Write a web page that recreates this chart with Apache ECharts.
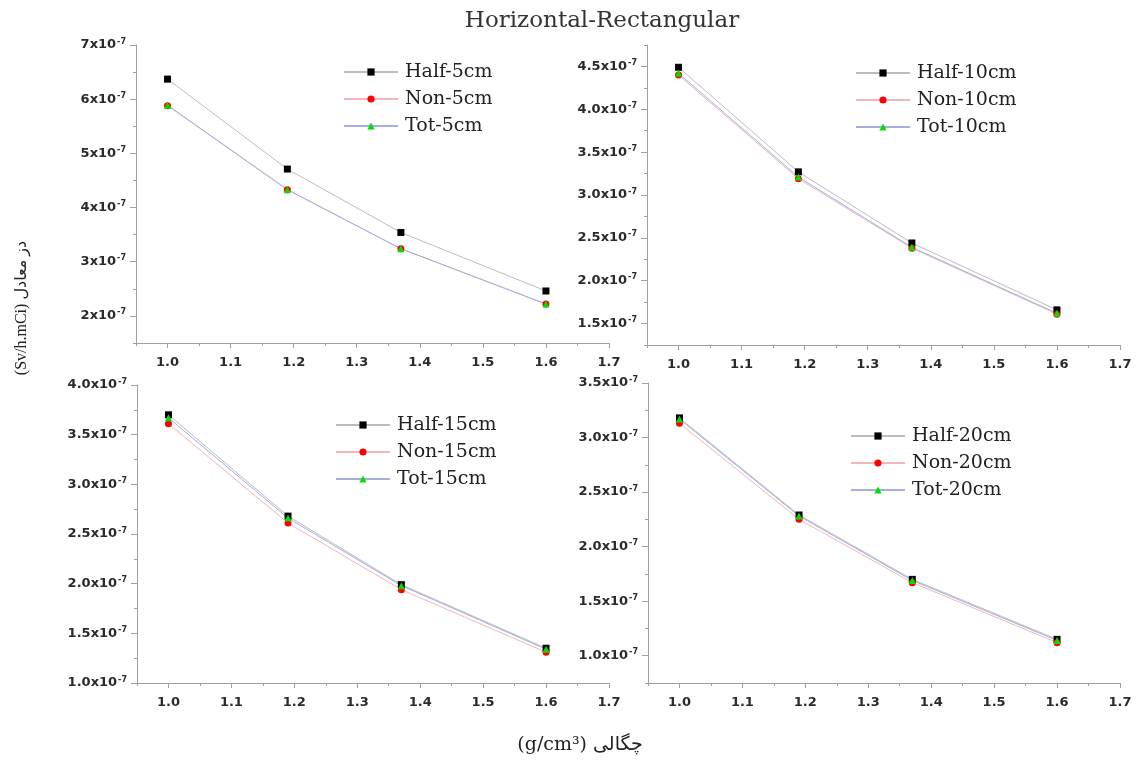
<!DOCTYPE html>
<html>
<head>
<meta charset="utf-8">
<script src="https://cdn.jsdelivr.net/npm/echarts@6/dist/echarts.min.js"></script>
<style>
  html, body { margin: 0; padding: 0; background: #fff; }
  #chart { width: 1140px; height: 762px; }
</style>
</head>
<body>
<div id="chart"></div>
<script>
// Dose equivalent versus density, four source distances.
// Dose values are in units of 1e-7 Sv/h.mCi.
const density = [1.0, 1.19, 1.37, 1.6];

const half5cm = [6.37, 4.71, 3.54, 2.46];
const non5cm  = [5.88, 4.33, 3.24, 2.22];
const tot5cm  = [5.89, 4.33, 3.24, 2.22];

const half10cm = [4.49, 3.27, 2.44, 1.66];
const non10cm  = [4.40, 3.19, 2.38, 1.61];
const tot10cm  = [4.42, 3.21, 2.39, 1.62];

const half15cm = [3.70, 2.68, 1.99, 1.35];
const non15cm  = [3.61, 2.61, 1.94, 1.31];
const tot15cm  = [3.67, 2.66, 1.98, 1.34];

const half20cm = [3.18, 2.29, 1.70, 1.15];
const non20cm  = [3.13, 2.25, 1.67, 1.12];
const tot20cm  = [3.17, 2.28, 1.69, 1.14];

// Tick values
const xMajorTicks = [1.0, 1.1, 1.2, 1.3, 1.4, 1.5, 1.6, 1.7];
const xMinorTicks = [0.95, 1.05, 1.15, 1.25, 1.35, 1.45, 1.55, 1.65];
const yTicks5cm  = [2, 3, 4, 5, 6, 7];
const yTicks10cm = [1.5, 2.0, 2.5, 3.0, 3.5, 4.0, 4.5];
const yTicks15cm = [1.0, 1.5, 2.0, 2.5, 3.0, 3.5, 4.0];
const yTicks20cm = [1.0, 1.5, 2.0, 2.5, 3.0, 3.5];
const yMinor5cm  = [1.5, 2.5, 3.5, 4.5, 5.5, 6.5];
const yMinor10cm = [1.25, 1.75, 2.25, 2.75, 3.25, 3.75, 4.25, 4.75];
const yMinor15cm = [1.25, 1.75, 2.25, 2.75, 3.25, 3.75];
const yMinor20cm = [0.75, 1.25, 1.75, 2.25, 2.75, 3.25];

const panels = [
  { tag: '5cm',  half: half5cm,  non: non5cm,  tot: tot5cm,  yMin: 1.5,  yMax: 7,    major: yTicks5cm,  minor: yMinor5cm,  digits: 0,
    grid: { left: 136, top: 45, width: 473, height: 298 }, legend: { left: 343, top: 62 } },
  { tag: '10cm', half: half10cm, non: non10cm, tot: tot10cm, yMin: 1.25, yMax: 4.75, major: yTicks10cm, minor: yMinor10cm, digits: 1,
    grid: { left: 647, top: 45, width: 473, height: 300 }, legend: { left: 855, top: 63 } },
  { tag: '15cm', half: half15cm, non: non15cm, tot: tot15cm, yMin: 1.0,  yMax: 4.0,  major: yTicks15cm, minor: yMinor15cm, digits: 1,
    grid: { left: 137, top: 385, width: 472, height: 298 }, legend: { left: 335, top: 415 } },
  { tag: '20cm', half: half20cm, non: non20cm, tot: tot20cm, yMin: 0.75, yMax: 3.5,  major: yTicks20cm, minor: yMinor20cm, digits: 1,
    grid: { left: 648, top: 383, width: 472, height: 300 }, legend: { left: 850, top: 426 } }
];

const axisGrey = '#a0a0a0';
const sansBold = '"DejaVu Sans", "Liberation Sans", sans-serif';
const serif = '"DejaVu Serif", "Liberation Serif", serif';
const sciRich = {
  b: { fontSize: 13, fontFamily: sansBold, fontWeight: 'bold', color: '#2a2a2a', lineHeight: 15 },
  s: { fontSize: 8, fontFamily: sansBold, fontWeight: 'bold', color: '#2a2a2a', verticalAlign: 'top', lineHeight: 15, padding: [0, 0, 7, 1] }
};

const grid = [], xAxis = [], yAxis = [], series = [], legend = [];

panels.forEach((p, i) => {
  grid.push(Object.assign({ containLabel: false }, p.grid));

  // main x axis: major ticks and labels
  xAxis.push({
    type: 'value', gridIndex: i, min: 0.95, max: 1.7,
    axisLine: { show: true, lineStyle: { color: axisGrey, width: 1 } },
    axisTick: { show: true, customValues: xMajorTicks, length: 5, lineStyle: { color: axisGrey } },
    axisLabel: {
      customValues: xMajorTicks, margin: 13, fontSize: 13, fontFamily: sansBold, fontWeight: 'bold', color: '#2a2a2a',
      formatter: v => v.toFixed(1)
    },
    splitLine: { show: false }
  });
  // overlay x axis carrying the minor ticks
  xAxis.push({
    type: 'value', gridIndex: i, min: 0.95, max: 1.7, position: 'bottom',
    axisLine: { show: false },
    axisTick: { show: true, customValues: xMinorTicks, length: 3, lineStyle: { color: axisGrey } },
    axisLabel: { show: false, customValues: xMinorTicks },
    splitLine: { show: false }
  });
  yAxis.push({
    type: 'value', gridIndex: i, min: p.yMin, max: p.yMax,
    axisLine: { show: true, lineStyle: { color: axisGrey, width: 1 } },
    axisTick: { show: true, customValues: p.major, length: 6, lineStyle: { color: axisGrey } },
    axisLabel: {
      customValues: p.major, margin: 10, rich: sciRich,
      formatter: v => '{b|' + v.toFixed(p.digits) + 'x10}{s|-7}'
    },
    splitLine: { show: false }
  });
  yAxis.push({
    type: 'value', gridIndex: i, min: p.yMin, max: p.yMax, position: 'left',
    axisLine: { show: false },
    axisTick: { show: true, customValues: p.minor, length: 3, lineStyle: { color: axisGrey } },
    axisLabel: { show: false, customValues: p.minor },
    splitLine: { show: false }
  });

  const defs = [
    { name: 'Half-' + p.tag, data: p.half, symbol: 'rect',     mark: '#000000', line: '#bdbdbd' },
    { name: 'Non-' + p.tag,  data: p.non,  symbol: 'circle',   mark: '#ff0000', line: '#f4b6b6' },
    { name: 'Tot-' + p.tag,  data: p.tot,  symbol: 'triangle', mark: '#00e000', line: '#a3aee6' }
  ];
  defs.forEach(d => {
    series.push({
      type: 'line', name: d.name, xAxisIndex: 2 * i, yAxisIndex: 2 * i,
      data: density.map((x, k) => [x, d.data[k]]),
      symbol: d.symbol, symbolSize: 7, showSymbol: true,
      itemStyle: { color: d.mark },
      lineStyle: { color: d.line, width: 1 },
      emphasis: { disabled: true }, animation: false, z: 3
    });
  });

  legend.push({
    left: p.legend.left, top: p.legend.top, orient: 'vertical', padding: 0,
    data: defs.map(d => d.name),
    itemWidth: 54, itemHeight: 9, itemGap: 7,
    textStyle: { fontFamily: serif, fontSize: 19, lineHeight: 20, color: '#222', padding: [0, 0, 0, 2] },
    selectedMode: false
  });
});

const chart = echarts.init(document.getElementById('chart'), null, { renderer: 'canvas' });
chart.setOption({
  backgroundColor: '#ffffff',
  animation: false,
  title: {
    text: 'Horizontal-Rectangular', left: 602, top: 10, textAlign: 'center', padding: 0,
    textStyle: { fontFamily: serif, fontSize: 23, fontWeight: 'normal', color: '#333' }
  },
  grid, xAxis, yAxis, series, legend,
  graphic: [
    {
      type: 'text', x: 22, y: 308, rotation: Math.PI / 2,
      style: {
        text: '(Sv/h.mCi) دز معادل',
        font: '16px "Liberation Serif", "DejaVu Sans", serif',
        fill: '#222', textAlign: 'center', textVerticalAlign: 'middle'
      }
    },
    {
      type: 'text', x: 580, y: 745,
      style: {
        text: '(g/cm³) چگالی',
        font: '19px "DejaVu Serif", "DejaVu Sans", serif',
        fill: '#222', textAlign: 'center', textVerticalAlign: 'middle'
      }
    }
  ]
});
</script>
</body>
</html>
